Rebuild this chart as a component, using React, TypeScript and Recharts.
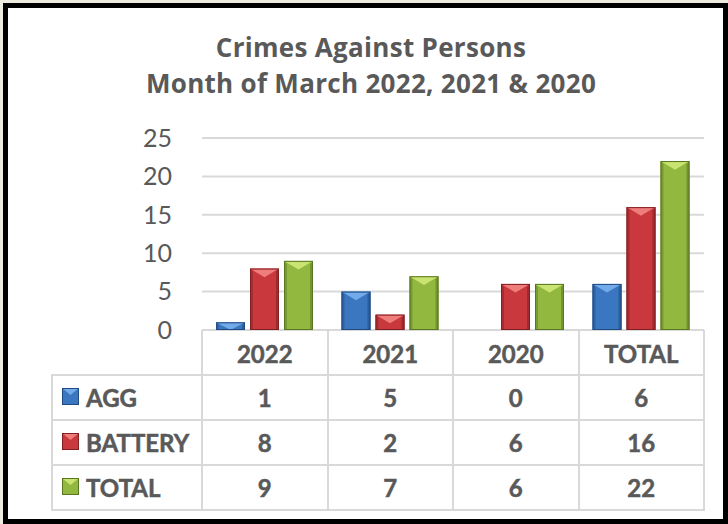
import React from "react";
import { BarChart, Bar, XAxis, YAxis, CartesianGrid } from "recharts";

const categories = ["2022", "2021", "2020", "TOTAL"];
const aggValues = [1, 5, 0, 6];
const batteryValues = [8, 2, 6, 16];
const totalValues = [9, 7, 6, 22];
const yTicks = [0, 5, 10, 15, 20, 25];
const seriesNames = ["AGG", "BATTERY", "TOTAL"];

const data = categories.map((c, i) => ({
  name: c,
  agg: aggValues[i],
  battery: batteryValues[i],
  total: totalValues[i],
}));

const palette = {
  agg: { base: "#3b76c0", light: "#72aaea", dark: "#1f4a82" },
  battery: { base: "#c8383c", light: "#ee7d7b", dark: "#821f22" },
  total: { base: "#93b83f", light: "#c9e470", dark: "#5a7620" },
};

const TEXT = "#595959";
const LINE = "#d9d9d9";
const FONT = "Lato, 'Open Sans', sans-serif";
const TITLE_FONT = "'Open Sans', Lato, sans-serif";

function bevelShape(col: { base: string; light: string; dark: string }) {
  return (props: any) => {
    const { x, y, width, height } = props;
    if (!height || height <= 0) return <g />;
    const s = Math.min(3, width / 4);
    const th = Math.min(height, width * 0.3);
    return (
      <g>
        <rect x={x} y={y} width={width} height={height} fill={col.base} />
        <polygon
          points={`${x},${y} ${x + s},${y + s} ${x + s},${y + height} ${x},${y + height}`}
          fill={col.dark}
          opacity={0.45}
        />
        <polygon
          points={`${x + width},${y} ${x + width - s},${y + s} ${x + width - s},${y + height} ${x + width},${y + height}`}
          fill={col.dark}
          opacity={0.55}
        />
        <polygon
          points={`${x},${y} ${x + width},${y} ${x + width / 2},${y + th}`}
          fill={col.light}
        />
        <rect x={x + 0.5} y={y + 0.5} width={width - 1} height={height - 1} fill="none" stroke={col.dark} strokeWidth={1} />
      </g>
    );
  };
}

function LegendIcon({ col }: { col: { base: string; light: string; dark: string } }) {
  return (
    <svg width={17} height={17} style={{ display: "block" }}>
      <rect x={0} y={0} width={17} height={17} fill={col.base} />
      <polygon points="0,0 17,0 8.5,7" fill={col.light} />
      <rect x={0.5} y={0.5} width={16} height={16} fill="none" stroke={col.dark} strokeWidth={1} />
    </svg>
  );
}

const XTick = (props: any) => {
  const { x, y, payload } = props;
  return (
    <text x={x} y={y + 23} textAnchor="middle" dominantBaseline="central" fill={TEXT} stroke={TEXT} strokeWidth={0.5} fontSize={24} fontWeight={700} fontFamily={FONT}>
      {payload.value}
    </text>
  );
};

const PLOT_LEFT = 202;
const PLOT_RIGHT = 704;
const TABLE_TOP = 330;
const ROW_H = 45;
const LABEL_LEFT = 52;

const cellText: React.CSSProperties = {
  color: TEXT,
  fontWeight: 700,
  fontSize: 24,
  WebkitTextStroke: "0.5px " + TEXT,
};

export default function App() {
  const band = (PLOT_RIGHT - PLOT_LEFT) / categories.length;
  const rows = [
    { key: "agg", vals: aggValues, col: palette.agg },
    { key: "battery", vals: batteryValues, col: palette.battery },
    { key: "total", vals: totalValues, col: palette.total },
  ];
  const lines: React.ReactNode[] = [];
  for (let i = 0; i <= categories.length; i++) {
    lines.push(
      <div key={"v" + i} style={{ position: "absolute", left: PLOT_LEFT + i * band - 1, top: TABLE_TOP, width: 2, height: ROW_H * 4, background: LINE }} />
    );
  }
  lines.push(
    <div key="vl" style={{ position: "absolute", left: LABEL_LEFT - 1, top: TABLE_TOP + ROW_H, width: 2, height: ROW_H * 3, background: LINE }} />
  );
  for (let r = 1; r <= 4; r++) {
    lines.push(
      <div key={"h" + r} style={{ position: "absolute", left: LABEL_LEFT - 1, top: TABLE_TOP + r * ROW_H - 1, width: PLOT_RIGHT - LABEL_LEFT + 2, height: 2, background: LINE }} />
    );
  }

  return (
    <div style={{ position: "fixed", left: 0, top: 0, width: 728, height: 524, background: "#eeebe1", fontFamily: FONT }}>
      <div style={{ position: "absolute", left: 3, top: 3, width: 725, height: 521, boxSizing: "border-box", border: "5px solid #000", background: "#fff" }} />
      <div style={{ position: "absolute", left: 0, top: 29, width: 742, textAlign: "center", color: TEXT, fontWeight: 700, fontSize: 26, lineHeight: "36px", letterSpacing: 0.3, fontFamily: TITLE_FONT }}>
        <div>Crimes Against Persons</div>
        <div>Month of March 2022, 2021 &amp; 2020</div>
      </div>
      <div style={{ position: "absolute", left: 0, top: 0 }}>
        <BarChart width={728} height={524} data={data} margin={{ top: 138, right: 24, bottom: 164, left: 142 }} barSize={29} barGap={5}>
          <CartesianGrid horizontal vertical={false} stroke={LINE} strokeWidth={2} />
          <XAxis dataKey="name" height={30} axisLine={false} tickLine={false} tickSize={0} tickMargin={0} tick={<XTick />} interval={0} />
          <YAxis
            width={60}
            domain={[0, 25]}
            ticks={yTicks}
            axisLine={false}
            tickLine={false}
            tickSize={0}
            tickMargin={30}
            tick={{ fill: TEXT, fontSize: 25, fontFamily: FONT }}
          />
          <Bar dataKey="agg" name={seriesNames[0]} isAnimationActive={false} shape={bevelShape(palette.agg)} />
          <Bar dataKey="battery" name={seriesNames[1]} isAnimationActive={false} shape={bevelShape(palette.battery)} />
          <Bar dataKey="total" name={seriesNames[2]} isAnimationActive={false} shape={bevelShape(palette.total)} />
        </BarChart>
      </div>
      {lines}
      {rows.map((row, r) => (
        <React.Fragment key={row.key}>
          <div style={{ position: "absolute", left: 62, top: TABLE_TOP + (r + 1) * ROW_H + 13 }}>
            <LegendIcon col={row.col} />
          </div>
          <div style={{ position: "absolute", left: 86, top: TABLE_TOP + (r + 1) * ROW_H, height: ROW_H, lineHeight: ROW_H + "px", ...cellText }}>
            {seriesNames[r]}
          </div>
          {row.vals.map((v, i) => (
            <div key={i} style={{ position: "absolute", left: PLOT_LEFT + i * band, width: band, top: TABLE_TOP + (r + 1) * ROW_H, height: ROW_H, lineHeight: ROW_H + "px", textAlign: "center", ...cellText }}>
              {v}
            </div>
          ))}
        </React.Fragment>
      ))}
    </div>
  );
}
